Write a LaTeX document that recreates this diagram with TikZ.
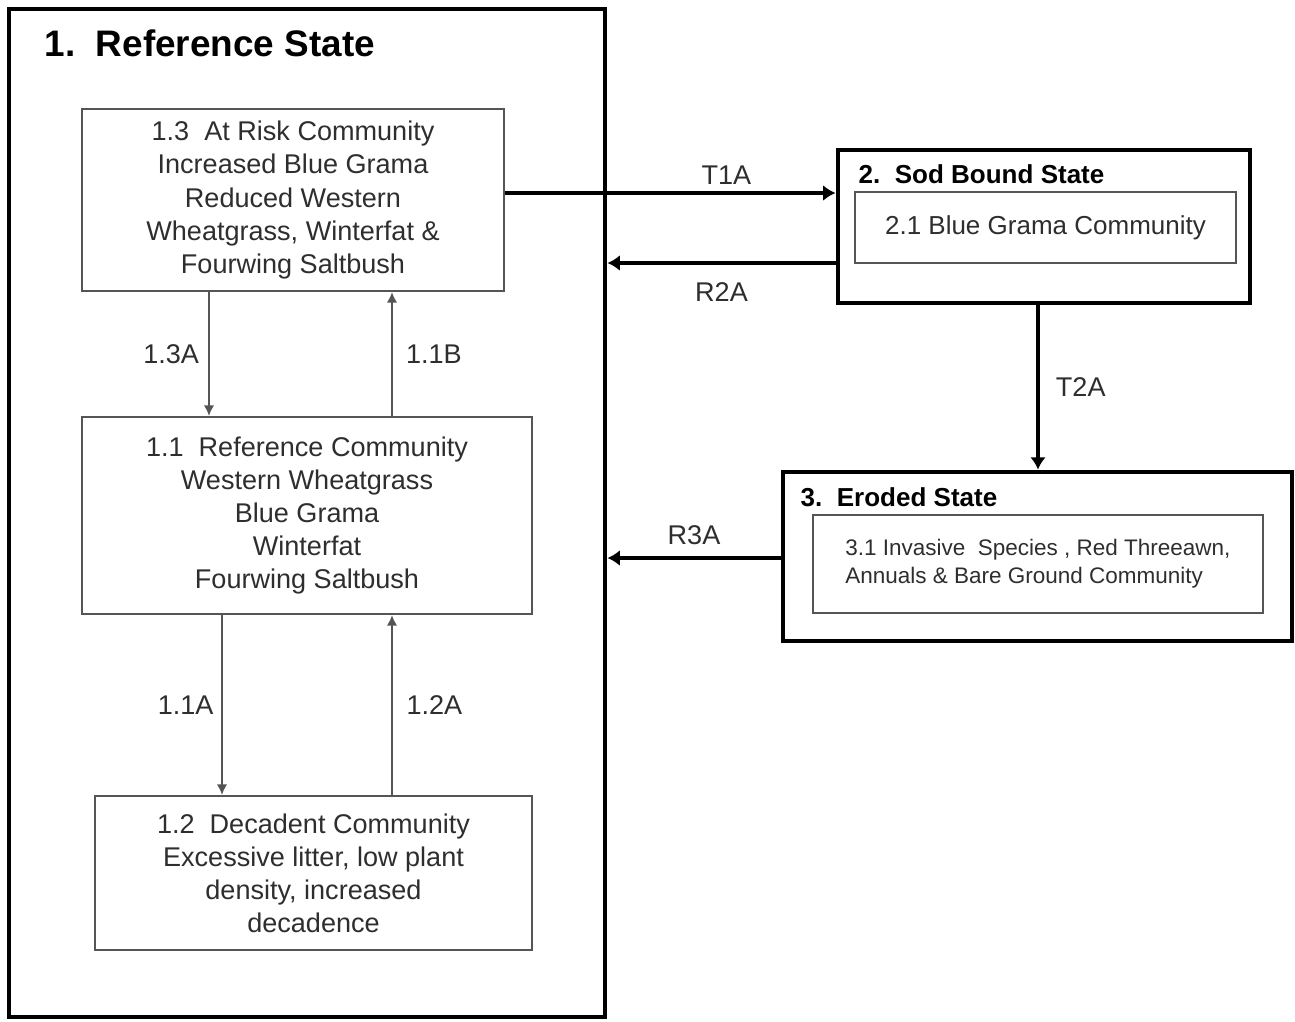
\documentclass[tikz,border=0pt]{standalone}
\usepackage{fontspec}
\setmainfont{Liberation Sans}
\usepackage{tikz}
\usetikzlibrary{positioning, arrows.meta}
\definecolor{linegray}{HTML}{555555}
\definecolor{textgray}{HTML}{2E2E2E}
\tikzset{%
	>={Latex[length=3pt, width=3pt]},
	statebox/.style = {draw, line width = 1.4pt, inner sep = 0pt},
	commbox/.style = {draw = linegray, line width = 0.6pt, align = center, text = textgray, inner sep = 0pt, font = \fontsize{7.7}{9.4}\selectfont},
	stitle/.style = {anchor = west, inner sep = 0pt, font = \fontsize{7.4}{9}\selectfont\bfseries},
	trans/.style = {->, color = linegray, line width = 0.6pt},
	move/.style = {-{Latex[length=3.5pt, width=4.5pt]}, line width = 1.1pt},
	lbl/.style = {inner sep = 0pt, text = textgray, font = \fontsize{7.7}{9.4}\selectfont}
}
\begin{document}
\begin{tikzpicture}
	\useasboundingbox (0,0) rectangle (12.95,-10.21);
	% states
	\node [statebox, minimum width = 5.96cm, minimum height = 10.08cm] (ref) at (3.07,-5.13) {};
	\node [stitle, font = \fontsize{10.5}{12}\selectfont\bfseries] (reftitle) at (0.44,-0.43) {1.\ \ Reference State};
	\node [statebox, minimum width = 4.12cm, minimum height = 1.53cm] (sod) at (10.44,-2.265) {};
	\node [stitle] (sodtitle) at (8.58,-1.74) {2.\ \ Sod Bound State};
	\node [statebox, minimum width = 5.09cm, minimum height = 1.69cm] (eroded) at (10.375,-5.565) {};
	\node [stitle] (erodtitle) at (8.00,-4.97) {3.\ \ Eroded State};
	% communities
	\node [commbox, minimum width = 4.22cm, minimum height = 1.82cm] (risk) at (2.93,-2.00) {1.3\ \ At Risk Community\\Increased Blue Grama\\Reduced Western\\Wheatgrass, Winterfat \&\\Fourwing Saltbush};
	\node [commbox, minimum width = 4.50cm, minimum height = 1.97cm] (refcom) at (3.07,-5.155) {1.1\ \ Reference Community\\Western Wheatgrass\\Blue Grama\\Winterfat\\Fourwing Saltbush};
	\node [commbox, minimum width = 4.37cm, minimum height = 1.54cm] (decad) at (3.135,-8.73) {1.2\ \ Decadent Community\\Excessive litter, low plant\\density, increased\\decadence};
	\node [commbox, minimum width = 3.81cm, minimum height = 0.71cm, font = \fontsize{7.4}{9}\selectfont] (sodcom) at (10.455,-2.275) {2.1 Blue Grama Community};
	\node [commbox, minimum width = 4.50cm, minimum height = 0.98cm, align = left, font = \fontsize{6.4}{8}\selectfont] (erodcom) at (10.38,-5.64) {3.1 Invasive\ \ Species , Red Threeawn,\\Annuals \& Bare Ground Community};
	% pathways inside the reference state
	\path [trans] ([xshift=-0.84cm]risk.south) edge node [lbl, left=0.09cm] {1.3A} ([xshift=-0.84cm]risk.south |- refcom.north);
	\path [trans] ([xshift=0.85cm]refcom.north) edge node [lbl, right=0.13cm] {1.1B} ([xshift=0.85cm]refcom.north |- risk.south);
	\path [trans] ([xshift=-0.85cm]refcom.south) edge node [lbl, left=0.075cm] {1.1A} ([xshift=-0.85cm]refcom.south |- decad.north);
	\path [trans] ([xshift=0.785cm]decad.north) edge node [lbl, right=0.135cm] {1.2A} ([xshift=0.785cm]decad.north |- refcom.south);
	% transitions and restorations
	\path [move] ([yshift=0.07cm]risk.east) edge node [lbl, above=0.065cm, pos=0.67] {T1A} ([yshift=0.07cm]risk.east -| sod.west);
	\path [move] ([yshift=-0.365cm]sod.west) edge node [lbl, below=0.175cm] {R2A} ([yshift=-0.365cm]sod.west -| ref.east);
	\path [move] ([xshift=-0.06cm]sod.south) edge node [lbl, right=0.16cm] {T2A} ([xshift=-0.06cm]sod.south |- eroded.north);
	\path [move] ([yshift=-0.015cm]eroded.west) edge node [lbl, above=0.115cm] {R3A} ([yshift=-0.015cm]eroded.west -| ref.east);
\end{tikzpicture}
\end{document}
